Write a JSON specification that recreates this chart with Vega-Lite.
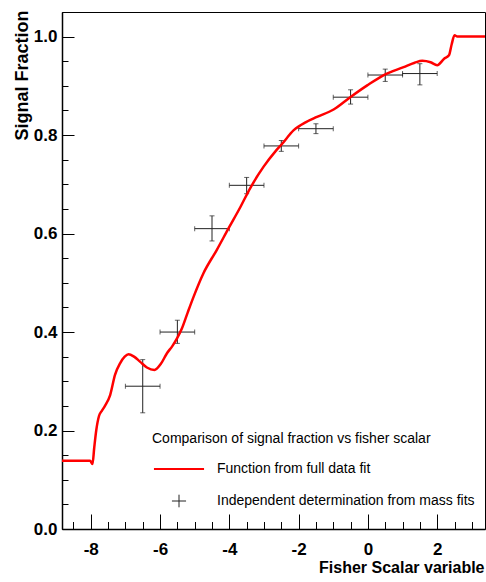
{
  "$schema": "https://vega.github.io/schema/vega-lite/v6.json",
  "width": 423,
  "height": 517,
  "autosize": {"type": "none"},
  "padding": {"left": 62, "top": 12, "right": 1, "bottom": 53},
  "background": "white",
  "config": {
    "view": {"stroke": "black", "strokeWidth": 1},
    "font": "Liberation Sans",
    "axis": {"domainColor": "black", "tickColor": "black", "labelColor": "black", "titleColor": "black", "grid": false}
  },
  "resolve": {"axis": {"x": "independent", "y": "independent"}},
  "datasets": {
    "curve": [
      {"x": -8.83, "y": 0.1385, "series": "Function from full data fit"},
      {"x": -8.4, "y": 0.1385, "series": "Function from full data fit"},
      {"x": -8.02, "y": 0.1385, "series": "Function from full data fit"},
      {"x": -7.95, "y": 0.132, "series": "Function from full data fit"},
      {"x": -7.9, "y": 0.165, "series": "Function from full data fit"},
      {"x": -7.84, "y": 0.201, "series": "Function from full data fit"},
      {"x": -7.76, "y": 0.23, "series": "Function from full data fit"},
      {"x": -7.68, "y": 0.24, "series": "Function from full data fit"},
      {"x": -7.59, "y": 0.25, "series": "Function from full data fit"},
      {"x": -7.44, "y": 0.272, "series": "Function from full data fit"},
      {"x": -7.3, "y": 0.313, "series": "Function from full data fit"},
      {"x": -7.15, "y": 0.337, "series": "Function from full data fit"},
      {"x": -7.02, "y": 0.35, "series": "Function from full data fit"},
      {"x": -6.91, "y": 0.355, "series": "Function from full data fit"},
      {"x": -6.75, "y": 0.35, "series": "Function from full data fit"},
      {"x": -6.58, "y": 0.34, "series": "Function from full data fit"},
      {"x": -6.38, "y": 0.328, "series": "Function from full data fit"},
      {"x": -6.16, "y": 0.323, "series": "Function from full data fit"},
      {"x": -5.98, "y": 0.335, "series": "Function from full data fit"},
      {"x": -5.8, "y": 0.357, "series": "Function from full data fit"},
      {"x": -5.65, "y": 0.371, "series": "Function from full data fit"},
      {"x": -5.51, "y": 0.387, "series": "Function from full data fit"},
      {"x": -5.37, "y": 0.407, "series": "Function from full data fit"},
      {"x": -5.2, "y": 0.44, "series": "Function from full data fit"},
      {"x": -5.03, "y": 0.472, "series": "Function from full data fit"},
      {"x": -4.75, "y": 0.519, "series": "Function from full data fit"},
      {"x": -4.36, "y": 0.567, "series": "Function from full data fit"},
      {"x": -4.02, "y": 0.611, "series": "Function from full data fit"},
      {"x": -3.68, "y": 0.654, "series": "Function from full data fit"},
      {"x": -3.4, "y": 0.692, "series": "Function from full data fit"},
      {"x": -3.01, "y": 0.736, "series": "Function from full data fit"},
      {"x": -2.67, "y": 0.767, "series": "Function from full data fit"},
      {"x": -2.48, "y": 0.782, "series": "Function from full data fit"},
      {"x": -2.14, "y": 0.81, "series": "Function from full data fit"},
      {"x": -1.8, "y": 0.826, "series": "Function from full data fit"},
      {"x": -1.47, "y": 0.837, "series": "Function from full data fit"},
      {"x": -0.99, "y": 0.852, "series": "Function from full data fit"},
      {"x": -0.51, "y": 0.877, "series": "Function from full data fit"},
      {"x": -0.02, "y": 0.901, "series": "Function from full data fit"},
      {"x": 0.46, "y": 0.922, "series": "Function from full data fit"},
      {"x": 1.03, "y": 0.938, "series": "Function from full data fit"},
      {"x": 1.35, "y": 0.947, "series": "Function from full data fit"},
      {"x": 1.57, "y": 0.951, "series": "Function from full data fit"},
      {"x": 1.81, "y": 0.948, "series": "Function from full data fit"},
      {"x": 2.0, "y": 0.942, "series": "Function from full data fit"},
      {"x": 2.2, "y": 0.955, "series": "Function from full data fit"},
      {"x": 2.34, "y": 0.962, "series": "Function from full data fit"},
      {"x": 2.42, "y": 0.985, "series": "Function from full data fit"},
      {"x": 2.5, "y": 1.003, "series": "Function from full data fit"},
      {"x": 2.58, "y": 1.0, "series": "Function from full data fit"},
      {"x": 3.38, "y": 1.0, "series": "Function from full data fit"}
    ],
    "points": [
      {"x": -6.5, "xlo": -7.0, "xhi": -6.0, "y": 0.29, "ylo": 0.236, "yhi": 0.344},
      {"x": -5.5, "xlo": -6.0, "xhi": -5.0, "y": 0.4, "ylo": 0.377, "yhi": 0.424},
      {"x": -4.5, "xlo": -5.0, "xhi": -4.0, "y": 0.61, "ylo": 0.585, "yhi": 0.636},
      {"x": -3.5, "xlo": -4.0, "xhi": -3.0, "y": 0.698, "ylo": 0.681, "yhi": 0.714},
      {"x": -2.5, "xlo": -3.0, "xhi": -2.0, "y": 0.778, "ylo": 0.767, "yhi": 0.789},
      {"x": -1.5, "xlo": -2.0, "xhi": -1.0, "y": 0.813, "ylo": 0.803, "yhi": 0.823},
      {"x": -0.5, "xlo": -1.0, "xhi": 0.0, "y": 0.877, "ylo": 0.863, "yhi": 0.892},
      {"x": 0.5, "xlo": 0.0, "xhi": 1.0, "y": 0.922, "ylo": 0.909, "yhi": 0.934},
      {"x": 1.5, "xlo": 1.0, "xhi": 2.0, "y": 0.925, "ylo": 0.902, "yhi": 0.945}
    ]
  },
  "layer": [
    {
      "data": {"name": "points"},
      "mark": {"type": "errorbar", "ticks": {"size": 5, "thickness": 1, "color": "#222222"}, "rule": {"strokeWidth": 1, "color": "#222222"}},
      "encoding": {
        "x": {
          "field": "xlo", "type": "quantitative",
          "axis": {
            "orient": "bottom",
            "values": [-8.5, -7.5, -7, -6.5, -5.5, -5, -4.5, -3.5, -3, -2.5, -1.5, -1, -0.5, 0.5, 1, 1.5, 2.5, 3],
            "tickSize": -7.5, "tickWidth": 1, "labels": false, "domain": false, "title": null
          }
        },
        "x2": {"field": "xhi"},
        "y": {
          "field": "y", "type": "quantitative",
          "axis": {
            "orient": "left",
            "values": [0.05, 0.1, 0.15, 0.25, 0.3, 0.35, 0.45, 0.5, 0.55, 0.65, 0.7, 0.75, 0.85, 0.9, 0.95, 1.05],
            "tickSize": -6, "tickWidth": 1, "labels": false, "domain": false, "title": null
          }
        }
      }
    },
    {
      "data": {"name": "points"},
      "mark": {"type": "errorbar", "ticks": {"size": 5, "thickness": 1, "color": "#222222"}, "rule": {"strokeWidth": 1, "color": "#222222"}},
      "encoding": {
        "y": {"field": "ylo", "type": "quantitative", "axis": null},
        "y2": {"field": "yhi"},
        "x": {"field": "x", "type": "quantitative", "axis": null}
      }
    },
    {
      "data": {"name": "curve"},
      "mark": {"type": "line", "strokeWidth": 2.5, "clip": true, "interpolate": "monotone"},
      "encoding": {
        "x": {
          "field": "x", "type": "quantitative",
          "scale": {"domain": [-8.83, 3.38], "nice": false, "zero": false},
          "axis": {
            "orient": "bottom",
            "title": "Fisher Scalar variable",
            "values": [-8, -6, -4, -2, 0, 2],
            "labelExpr": "'' + datum.value",
            "tickSize": -15,
            "tickWidth": 1,
            "labelPadding": 27,
            "labelOverlap": false,
            "labelFlush": false,
            "labelFontSize": 17,
            "labelFontWeight": "bold",
            "labelFont": "Liberation Sans",
            "domainWidth": 1.5,
            "titleFontSize": 16,
            "titleFontWeight": "bold",
            "titleFont": "Liberation Sans",
            "titleAnchor": "end",
            "titleAlign": "right",
            "titleBaseline": "alphabetic",
            "titleX": 422,
            "titleY": 43
          }
        },
        "y": {
          "field": "y", "type": "quantitative",
          "scale": {"domain": [0, 1.05], "nice": false},
          "axis": {
            "orient": "left",
            "title": "Signal Fraction",
            "values": [0, 0.2, 0.4, 0.6, 0.8, 1.0],
            "format": ".1f",
            "tickSize": -12,
            "tickWidth": 1,
            "labelPadding": 17,
            "labelOverlap": false,
            "labelFlush": false,
            "labelFontSize": 17,
            "labelFontWeight": "bold",
            "labelFont": "Liberation Sans",
            "domainWidth": 1.5,
            "titleFontSize": 18,
            "titleFontWeight": "bold",
            "titleFont": "Liberation Sans",
            "titleAngle": -90,
            "titleAnchor": "end",
            "titleAlign": "right",
            "titleBaseline": "alphabetic",
            "titleX": -35,
            "titleY": -2
          }
        },
        "color": {
          "field": "series", "type": "nominal",
          "scale": {"domain": ["Function from full data fit", "Independent determination from mass fits"], "range": ["#ff0000", "#222222"]},
          "legend": {
            "title": "Comparison of signal fraction vs fisher scalar",
            "orient": "none",
            "legendX": 90,
            "legendY": 420,
            "direction": "vertical",
            "padding": 0,
            "titleFontSize": 14,
            "titleFontWeight": "normal",
            "titleFont": "Liberation Sans",
            "titleColor": "black",
            "titleLimit": 400,
            "titlePadding": 16,
            "labelFontSize": 14,
            "labelFont": "Liberation Sans",
            "labelColor": "black",
            "labelLimit": 400,
            "labelOffset": 31,
            "symbolSize": 900,
            "symbolOffset": 20,
            "rowPadding": 16,
            "symbolType": "stroke",
            "encode": {
              "symbols": {
                "update": {
                  "shape": {"signal": "datum.value === 'Function from full data fit' ? 'M-1.67,0L1.67,0' : 'M-0.47,0L0.47,0M0,-0.42L0,0.42'"},
                  "strokeWidth": {"signal": "datum.value === 'Function from full data fit' ? 2 : 1"}
                }
              }
            }
          }
        }
      }
    }
  ]
}
